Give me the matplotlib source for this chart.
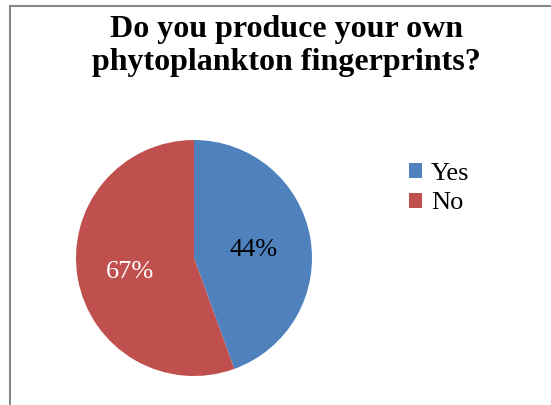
import matplotlib
matplotlib.use("Agg")
import matplotlib.pyplot as plt
import numpy as np
from matplotlib.patches import Rectangle, Patch

# data
categories = ["Yes", "No"]
counts = [4, 5]
pct_labels = ["44%", "67%"]
colors = ["#4F81BD", "#C0504D"]
label_colors = ["black", "white"]

W, H = 551, 405
fig = plt.figure(figsize=(W / 100, H / 100), dpi=100)
plt.rcParams['font.family'] = ['Liberation Serif', 'DejaVu Serif']

# outer chart frame (top and left visible)
fig.patches.append(Rectangle((10 / W, -0.1), 1.2, (H - 6) / H + 0.1,
                             transform=fig.transFigure, fill=False,
                             edgecolor='#888888', lw=1.5))

fig.text(286 / W, 1 - 46 / H, "Do you produce your own\nphytoplankton fingerprints?",
         ha='center', va='center', fontsize=23, fontweight='bold',
         linespacing=1.15)

# pie, centre ~(194,258) px, radius ~118 px
r = 118
ax = fig.add_axes([(194 - r) / W, (H - 258 - r) / H, 2 * r / W, 2 * r / H])
wedges, _ = ax.pie(counts, colors=colors, startangle=90, counterclock=False,
                   radius=1.0, wedgeprops=dict(linewidth=0))
ax.set_xlim(-1, 1)
ax.set_ylim(-1, 1)
ax.set_aspect('equal')

for w, lab, c, d in zip(wedges, pct_labels, label_colors, [0.51, 0.55]):
    ang = np.deg2rad((w.theta1 + w.theta2) / 2)
    ax.text(d * np.cos(ang), d * np.sin(ang), lab, ha='center',
            va='center_baseline', fontsize=19, color=c)

handles = [Patch(facecolor=c, edgecolor='none') for c in colors]
fig.legend(handles, categories, loc='upper left',
           bbox_to_anchor=(398 / W, 1 - 152 / H), frameon=False,
           fontsize=19, handlelength=0.5, handleheight=0.5,
           handletextpad=0.35, labelspacing=0.3, borderaxespad=0)

fig.savefig('out.png', dpi=100, facecolor='white')
